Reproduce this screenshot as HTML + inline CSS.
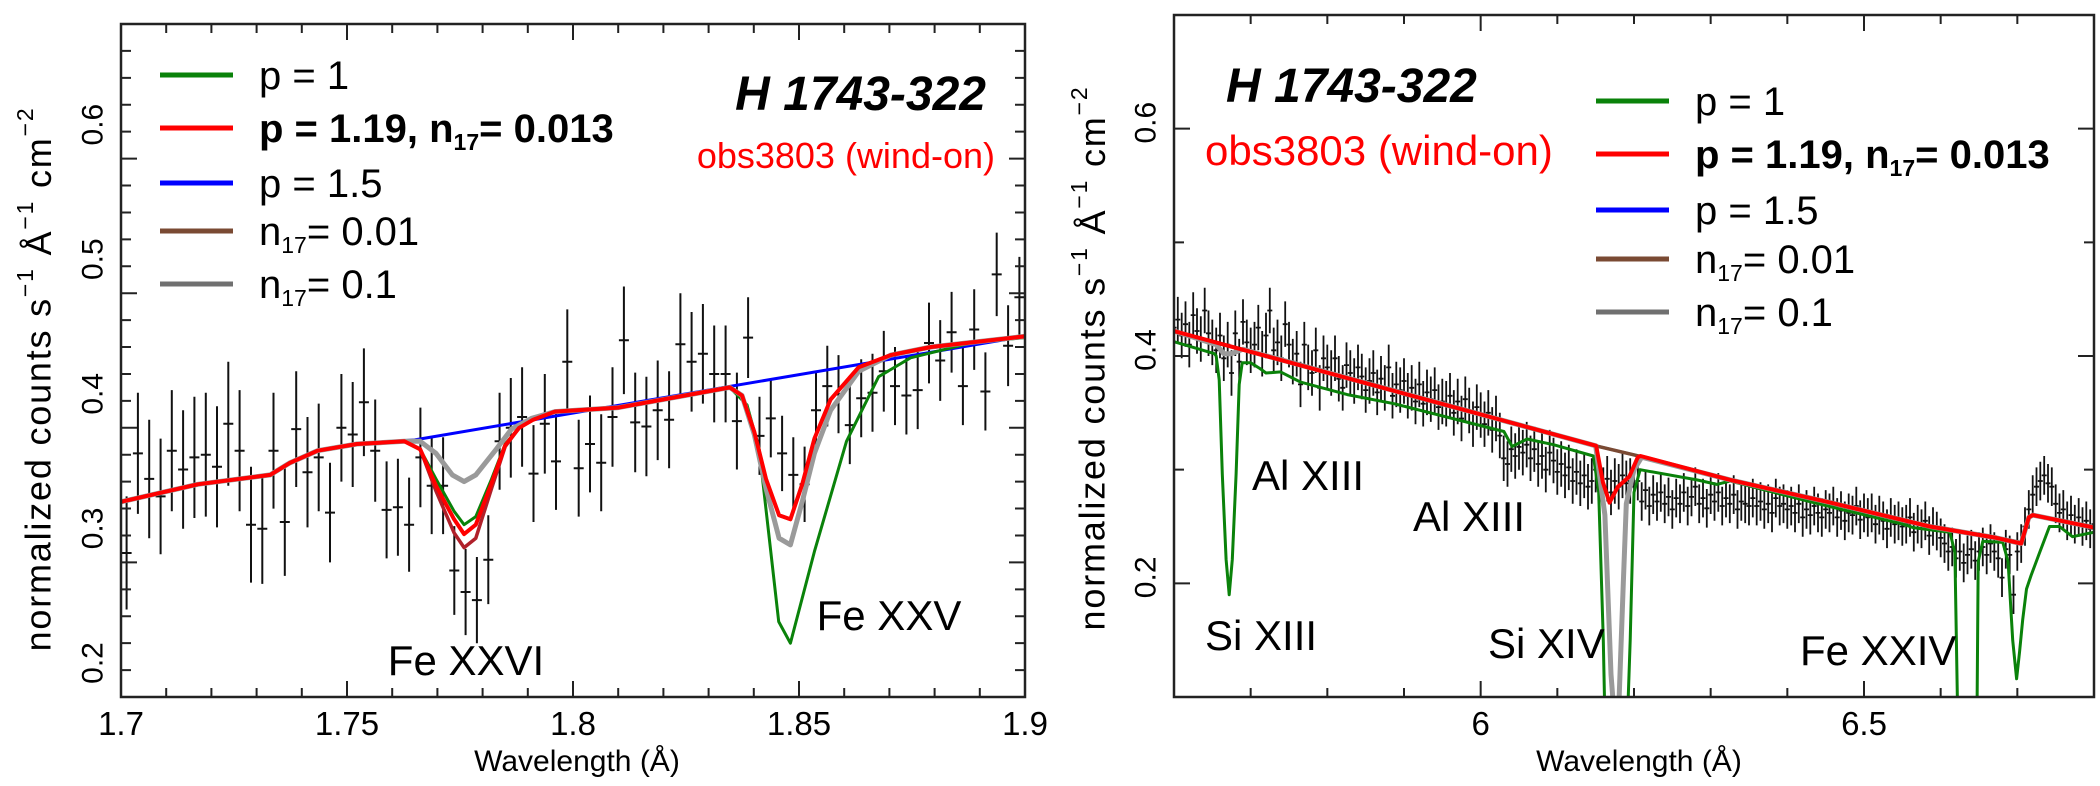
<!DOCTYPE html>
<html><head><meta charset="utf-8">
<style>
html,body{margin:0;padding:0;background:#fff;}
svg{display:block;font-family:"Liberation Sans",sans-serif;}
</style></head>
<body>
<svg id="fig" width="2100" height="786" viewBox="0 0 2100 786" xmlns="http://www.w3.org/2000/svg">
<defs>
<clipPath id="clipL"><rect x="121" y="24" width="904" height="673"/></clipPath>
<clipPath id="clipR"><rect x="1174" y="15" width="920" height="682"/></clipPath>
</defs>
<g id="left"></g>
<g id="right"></g>
</svg>
<script>
// ---------- LEFT PANEL DATA ----------
const leftStart = 1.70125, leftStep = 0.0025;
const leftValues = [0.307,0.381,0.362,0.349,0.383,0.369,0.378,0.380,0.371,0.403,
0.383,0.328,0.325,0.383,0.330,0.399,0.367,0.378,0.337,0.400,
0.395,0.419,0.383,0.339,0.341,0.328,0.378,0.357,0.357,0.294,
0.278,0.272,0.302,0.390,0.400,0.408,0.366,0.403,0.375,0.449,
0.370,0.388,0.374,0.408,0.465,0.404,0.401,0.413,0.406,0.462,
0.449,0.455,0.440,0.440,0.405,
0.467,0.394,0.407,0.381,0.365,0.358,0.413,0.431,0.425,0.402,
0.422,0.426,0.442,0.431,0.424,0.428,0.463,0.450,0.471,0.431,
0.473,0.427,0.514,0.461,0.497];
const leftErr = [0.042,0.045,0.044,0.043,0.045,0.044,0.045,0.046,0.045,0.046,
0.045,0.043,0.041,0.043,0.040,0.043,0.041,0.040,0.037,0.040,
0.039,0.040,0.038,0.036,0.036,0.035,0.037,0.036,0.036,0.033,
0.032,0.032,0.033,0.036,0.037,0.037,0.036,0.037,0.036,0.039,
0.036,0.036,0.036,0.037,0.040,0.037,0.037,0.037,0.036,0.038,
0.037,0.037,0.036,0.036,0.036,
0.030,0.029,0.029,0.028,0.028,0.028,0.029,0.030,0.029,0.029,
0.029,0.029,0.030,0.029,0.029,0.029,0.030,0.030,0.030,0.029,
0.030,0.029,0.031,0.030,0.030];
const leftRedX = [1.700,1.717,1.733,1.7374,1.7435,1.7522,1.7627,1.7662,1.7697,1.7737,1.7759,1.7785,1.782,1.785,1.7881,1.7912,1.796,1.81,1.8347,1.8374,1.8401,1.8427,1.8456,1.8481,1.8507,1.8534,1.857,1.8632,1.8703,1.8792,1.9];
const leftRedY = [0.345,0.358,0.365,0.374,0.383,0.388,0.390,0.384,0.357,0.332,0.321,0.328,0.359,0.387,0.400,0.406,0.412,0.415,0.430,0.424,0.397,0.362,0.335,0.332,0.358,0.392,0.421,0.445,0.454,0.460,0.468];
const leftGreenX = [1.700,1.717,1.733,1.7374,1.7435,1.7522,1.7627,1.7662,1.7697,1.7737,1.7759,1.7785,1.782,1.785,1.7881,1.7912,1.796,1.81,1.8347,1.8385,1.8412,1.8455,1.8481,1.8534,1.8605,1.8676,1.8747,1.888,1.9];
const leftGreenY = [0.345,0.358,0.365,0.374,0.383,0.388,0.390,0.384,0.362,0.338,0.328,0.334,0.362,0.388,0.400,0.406,0.412,0.415,0.430,0.417,0.384,0.256,0.240,0.308,0.390,0.438,0.452,0.463,0.467];
const leftGreyX = [1.700,1.717,1.733,1.7374,1.7435,1.7522,1.7627,1.7662,1.7697,1.7733,1.7759,1.7785,1.783,1.7864,1.7908,1.796,1.81,1.8347,1.8374,1.8401,1.8427,1.8456,1.8481,1.8507,1.8534,1.857,1.8632,1.8703,1.8792,1.9];
const leftGreyY = [0.345,0.358,0.365,0.374,0.383,0.388,0.390,0.390,0.381,0.365,0.360,0.365,0.384,0.399,0.407,0.412,0.415,0.430,0.424,0.395,0.355,0.318,0.313,0.345,0.381,0.413,0.442,0.454,0.460,0.468];
const leftBrownX = leftRedX;
const leftBrownY = [0.345,0.358,0.365,0.374,0.383,0.388,0.390,0.384,0.353,0.322,0.311,0.318,0.355,0.386,0.400,0.406,0.412,0.415,0.430,0.424,0.397,0.362,0.335,0.332,0.358,0.392,0.421,0.445,0.454,0.460,0.468];
const leftBlueX = [1.700,1.717,1.733,1.7374,1.7435,1.7522,1.765,1.9];
const leftBlueY = [0.345,0.358,0.365,0.374,0.383,0.388,0.391,0.468];
const leftXTicks = [1.7,1.75,1.8,1.85,1.9];
const leftXTickLabels = ["1.7","1.75","1.8","1.85","1.9"];
const leftYTicks = [0.2,0.3,0.4,0.5,0.6];
const leftYTickLabels = ["0.2","0.3","0.4","0.5","0.6"];

// ---------- RIGHT PANEL DATA ----------
const rightStart = 5.6, rightStep = 0.005;
const rightValues = [0.425,0.432,0.418,0.428,0.41,0.436,0.422,0.415,0.44,0.42,0.412,
0.405,0.418,0.398,0.41,0.385,0.42,0.395,0.43,0.412,0.405,
0.41,0.425,0.402,0.418,0.44,0.405,0.412,0.398,0.428,0.41,
0.395,0.402,0.375,0.41,0.39,0.385,0.405,0.372,0.398,0.39,
0.385,0.398,0.38,0.372,0.392,0.385,0.378,0.39,0.382,0.37,
0.378,0.385,0.368,0.38,0.372,0.39,0.365,0.375,0.37,0.378,
0.365,0.372,0.36,0.375,0.358,0.368,0.362,0.37,0.355,0.36,
0.358,0.365,0.35,0.36,0.345,0.362,0.352,0.34,0.355,0.348,
0.34,0.35,0.335,0.345,0.33,0.31,0.305,0.318,0.312,0.32,
0.315,0.322,0.31,0.318,0.305,0.312,0.3,0.315,0.308,0.298,
0.305,0.295,0.302,0.29,0.298,0.288,0.295,0.285,0.29,0.3,
0.288,0.282,0.292,0.28,0.29,0.285,0.295,0.288,0.29,0.285,
0.29,0.272,0.282,0.268,0.278,0.272,0.28,0.27,0.276,0.265,
0.275,0.27,0.28,0.268,0.276,0.285,0.27,0.275,0.266,0.278,
0.272,0.28,0.268,0.275,0.27,0.278,0.265,0.272,0.27,0.268,
0.275,0.268,0.272,0.265,0.27,0.262,0.275,0.268,0.27,0.265,
0.268,0.262,0.27,0.258,0.265,0.26,0.268,0.262,0.258,0.265,
0.262,0.268,0.258,0.264,0.255,0.262,0.26,0.268,0.256,0.262,
0.258,0.262,0.252,0.26,0.255,0.248,0.258,0.252,0.255,0.25,
0.252,0.258,0.245,0.252,0.248,0.255,0.242,0.25,0.246,0.24,
0.235,0.228,0.232,0.222,0.228,0.218,0.225,0.23,0.22,0.228,
0.232,0.225,0.235,0.228,0.222,0.205,0.23,0.225,0.19,0.228,
0.235,0.25,0.265,0.278,0.285,0.29,0.295,0.288,0.285,0.27,
0.262,0.265,0.255,0.26,0.252,0.258,0.25,0.255,0.248,0.252];
const rightErrHi = 0.02, rightErrLo = 0.017;
const rightContX = [5.6,6.15,6.2085,6.3255,6.456,6.586,6.673,6.705,6.715,6.72,6.8];
const rightContY = [0.422,0.321,0.3117,0.291,0.271,0.25,0.240,0.236,0.258,0.260,0.249];
const rightRedX = [5.6,6.1507,6.1594,6.168,6.179,6.194,6.205,6.2085,6.3255,6.456,6.586,6.673,6.705,6.715,6.72,6.8];
const rightRedY = [0.422,0.321,0.289,0.271,0.285,0.294,0.311,0.312,0.291,0.271,0.25,0.240,0.235,0.258,0.260,0.249];
const rightGreyX = [5.6,5.655,5.665,5.675,5.69,5.70,6.15,6.162,6.170,6.178,6.186,6.19,6.2,6.21,6.3255,6.456,6.586,6.673,6.705,6.715,6.72,6.8];
const rightGreyY = [0.422,0.410,0.402,0.402,0.406,0.404,0.321,0.26,0.12,0.05,0.2,0.27,0.30,0.311,0.291,0.271,0.25,0.240,0.235,0.258,0.260,0.249];
const rightGreenX = [5.6,5.6528,5.655,5.659,5.663,5.668,5.672,5.676,5.681,5.685,5.689,5.70,5.712,5.72,5.739,5.765,5.826,5.887,6.0303,6.041,6.0606,6.095,6.147,6.154,6.16,6.163,6.19,6.195,6.2,6.208,6.282,6.308,6.3255,6.434,6.551,6.564,6.612,6.6185,6.623,6.647,6.649,6.655,6.681,6.688,6.694,6.699,6.703,6.707,6.712,6.718,6.729,6.742,6.755,6.772,6.8];
const rightGreenY = [0.4126,0.402,0.400,0.379,0.296,0.221,0.190,0.221,0.296,0.375,0.394,0.394,0.389,0.385,0.386,0.377,0.366,0.358,0.3336,0.3204,0.327,0.322,0.312,0.28,0.15,0.05,0.05,0.15,0.28,0.300,0.291,0.287,0.290,0.271,0.252,0.249,0.245,0.227,0.05,0.05,0.219,0.237,0.236,0.219,0.15,0.116,0.14,0.168,0.195,0.207,0.227,0.250,0.250,0.241,0.245];
const rightXTicks = [6.0,6.5];
const rightXTickLabels = ["6","6.5"];
const rightYTicks = [0.2,0.4,0.6];
const rightYTickLabels = ["0.2","0.4","0.6"];

// ---------- helpers ----------
const NS = "http://www.w3.org/2000/svg";
function mk(tag, attrs, parent){ const e=document.createElementNS(NS,tag); for(const k in attrs) e.setAttribute(k,attrs[k]); if(parent) parent.appendChild(e); return e; }

function buildPanel(g, cfg){
  const X = v => cfg.x0 + (v - cfg.xmin) / (cfg.xmax - cfg.xmin) * (cfg.x1 - cfg.x0);
  const Y = v => cfg.y1 - (v - cfg.ymin) / (cfg.ymax - cfg.ymin) * (cfg.y1 - cfg.y0);
  const plot = mk('g', {'clip-path':'url(#'+cfg.clip+')'}, g);
  
  
  const dg = mk('g', {stroke:'#111','stroke-width':cfg.ew,fill:'none'}, plot);
  
  
  cfg.values.forEach((v,i)=>{
    const lam = cfg.start + cfg.step*i;
    const e = cfg.err(i);
    const px = X(lam), py = Y(v);
    const p = mk('path', {d:`M${px.toFixed(1)},${Y(v+e).toFixed(1)}V${Y(v-e).toFixed(1)}M${(px-cfg.cap).toFixed(1)},${py.toFixed(1)}H${(px+cfg.cap).toFixed(1)}`}, dg);
    
    
  });
  cfg.models.forEach(m=>{
    const d = m.x.map((xv,i)=>(i?'L':'M')+X(xv).toFixed(1)+','+Y(m.y[i]).toFixed(1)).join('');
    const p = mk('path', {d, stroke:m.color, 'stroke-width':m.w, fill:'none','stroke-linejoin':'round'}, plot);
    
    
  });
  const fr = mk('rect', {x:cfg.x0,y:cfg.y0,width:cfg.x1-cfg.x0,height:cfg.y1-cfg.y0,fill:'none',stroke:'#222','stroke-width':2.5}, g);
  
  
  const tg = mk('g', {stroke:'#222','stroke-width':2}, g);
  
  
  for(let k=0;;k++){
    const v = cfg.xmin + k*cfg.xminor; if(v>cfg.xmax+1e-9) break;
    const major = Math.abs(v/cfg.xmajor - Math.round(v/cfg.xmajor))<1e-6;
    const L = major?16:9, px=X(v);
    mk('path',{d:`M${px},${cfg.y1}v${-L}M${px},${cfg.y0}v${L}`},tg);
  }
  for(let k=0;;k++){
    const v = cfg.ymin + k*cfg.yminor; if(v>cfg.ymax+1e-9) break;
    const major = cfg.yTicks.some(t=>Math.abs(t-v)<1e-6);
    const L = major?16:10, py=Y(v);
    mk('path',{d:`M${cfg.x0},${py}h${L}M${cfg.x1},${py}h${-L}`},tg);
  }
  cfg.xTicks.forEach((t,i)=>{
    const tx = mk('text',{x:X(t),y:735,'font-size':33,'text-anchor':'middle',fill:'#000'},g);
    tx.textContent = cfg.xTickLabels[i];
    
    
  });
  cfg.yTicks.forEach((t,i)=>{
    const cx = cfg.x0-28, cy = Y(t)-cfg.ylabOff;
    const tx = mk('text',{x:cx,y:cy,'font-size':30,'text-anchor':'middle','dominant-baseline':'central',transform:`rotate(-90 ${cx} ${cy})`,fill:'#000'},g);
    tx.textContent = cfg.yTickLabels[i];
    
    
  });
}

function legend(g, x, ys){
  const items = [
    {c:'#0a820a', html:'p = 1'},
    {c:'#ff0000', html:'<tspan font-weight="bold">p = 1.19, n<tspan font-size="23" dy="8">17</tspan><tspan dy="-8">= 0.013</tspan></tspan>'},
    {c:'#0000ff', html:'p = 1.5'},
    {c:'#7a4a33', html:'n<tspan font-size="23" dy="8">17</tspan><tspan dy="-8">= 0.01</tspan>'},
    {c:'#707070', html:'n<tspan font-size="23" dy="8">17</tspan><tspan dy="-8">= 0.1</tspan>'}
  ];
  items.forEach((it,i)=>{
    const lg = mk('g',{},g);
    
    
    mk('line',{x1:x,x2:x+73,y1:ys[i],y2:ys[i],stroke:it.c,'stroke-width':5},lg);
    const t = mk('text',{x:x+99,y:ys[i]+14,'font-size':40,fill:'#000'},lg);
    t.innerHTML = it.html;
  });
}

function label(g, txt, x, y, size, opts){
  const t = mk('text',Object.assign({x,y,'font-size':size,fill:'#000'},opts||{}),g);
  t.textContent = txt;
  return t;
}
function ytitle(g, x, y){
  const t = mk('text',{x:x,y:y,'font-size':36,'letter-spacing':1.8,'text-anchor':'middle','dominant-baseline':'central',transform:`rotate(-90 ${x} ${y})`},g);
  t.innerHTML = 'normalized counts s<tspan font-size="23" dy="-13">−1</tspan><tspan dy="13"> Å</tspan><tspan font-size="23" dy="-13">−1</tspan><tspan dy="13"> cm</tspan><tspan font-size="23" dy="-13">−2</tspan>';
  
  
}

// ---------- LEFT ----------
const gl = document.getElementById('left');
buildPanel(gl, {
  x0:121,x1:1025,y0:24,y1:697,xmin:1.7,xmax:1.9,ymin:0.2,ymax:0.7,clip:'clipL',
  xminor:0.01,xmajor:0.05,yminor:0.02,ylabOff:34,
  xTicks:leftXTicks,xTickLabels:leftXTickLabels,yTicks:leftYTicks,yTickLabels:leftYTickLabels,
  start:leftStart,step:leftStep,values:leftValues,err:i=>leftErr[i],cap:5,ew:2,
  models:[
    {name:'model-p1.5',x:leftBlueX,y:leftBlueY,color:'#0000ff',w:3},
    {name:'model-p1',x:leftGreenX,y:leftGreenY,color:'#0a820a',w:3},
    {name:'model-n17-0.1',x:leftGreyX,y:leftGreyY,color:'#9a9a9a',w:5},
    {name:'model-n17-0.01',x:leftBrownX,y:leftBrownY,color:'#b0202a',w:3.5},
    {name:'model-best-fit',x:leftRedX,y:leftRedY,color:'#ff0000',w:4}
  ]
});
legend(gl, 160, [75,128,183,231,284]);
let t;
t = label(gl,'H 1743-322',986,110,48,{'font-weight':'bold','font-style':'italic','text-anchor':'end'});
 
t = label(gl,'obs3803 (wind-on)',995,168,36,{fill:'#ff0000','text-anchor':'end'});
 
t = label(gl,'Fe XXVI',466,675,42,{'text-anchor':'middle'});
 
t = label(gl,'Fe XXV',889,630,42,{'text-anchor':'middle'});
 
t = label(gl,'Wavelength (Å)',577,771,30,{'text-anchor':'middle'});
 
ytitle(gl, 38, 379);

// ---------- RIGHT ----------
const gr = document.getElementById('right');
buildPanel(gr, {
  x0:1174,x1:2094,y0:15,y1:697,xmin:5.6,xmax:6.8,ymin:0.1,ymax:0.7,clip:'clipR',
  xminor:0.1,xmajor:0.5,yminor:0.1,ylabOff:6,
  xTicks:rightXTicks,xTickLabels:rightXTickLabels,yTicks:rightYTicks,yTickLabels:rightYTickLabels,
  start:rightStart,step:rightStep,values:rightValues,err:i=>(i<120?rightErrHi:rightErrLo),cap:2.5,ew:1.8,
  models:[
    {name:'model-p1.5',x:rightContX,y:rightContY,color:'#0000ff',w:3},
    {name:'model-n17-0.01',x:rightContX,y:rightContY,color:'#7a4a33',w:3.5},
    {name:'model-p1',x:rightGreenX,y:rightGreenY,color:'#0a820a',w:3},
    {name:'model-n17-0.1',x:rightGreyX,y:rightGreyY,color:'#9a9a9a',w:5},
    {name:'model-best-fit',x:rightRedX,y:rightRedY,color:'#ff0000',w:4}
  ]
});
legend(gr, 1596, [101,154,210,259,312]);
t = label(gr,'H 1743-322',1226,102,48,{'font-weight':'bold','font-style':'italic'});
 
t = label(gr,'obs3803 (wind-on)',1205,165,42,{fill:'#ff0000'});
 
t = label(gr,'Al XIII',1252,490,42);
 
t = label(gr,'Al XIII',1413,531,42);
 
t = label(gr,'Si XIII',1205,650,42);
 
t = label(gr,'Si XIV',1488,658,42);
 
t = label(gr,'Fe XXIV',1800,665,42);
 
t = label(gr,'Wavelength (Å)',1639,771,30,{'text-anchor':'middle'});
 
ytitle(gr, 1092, 358);
</script>
</body></html>
